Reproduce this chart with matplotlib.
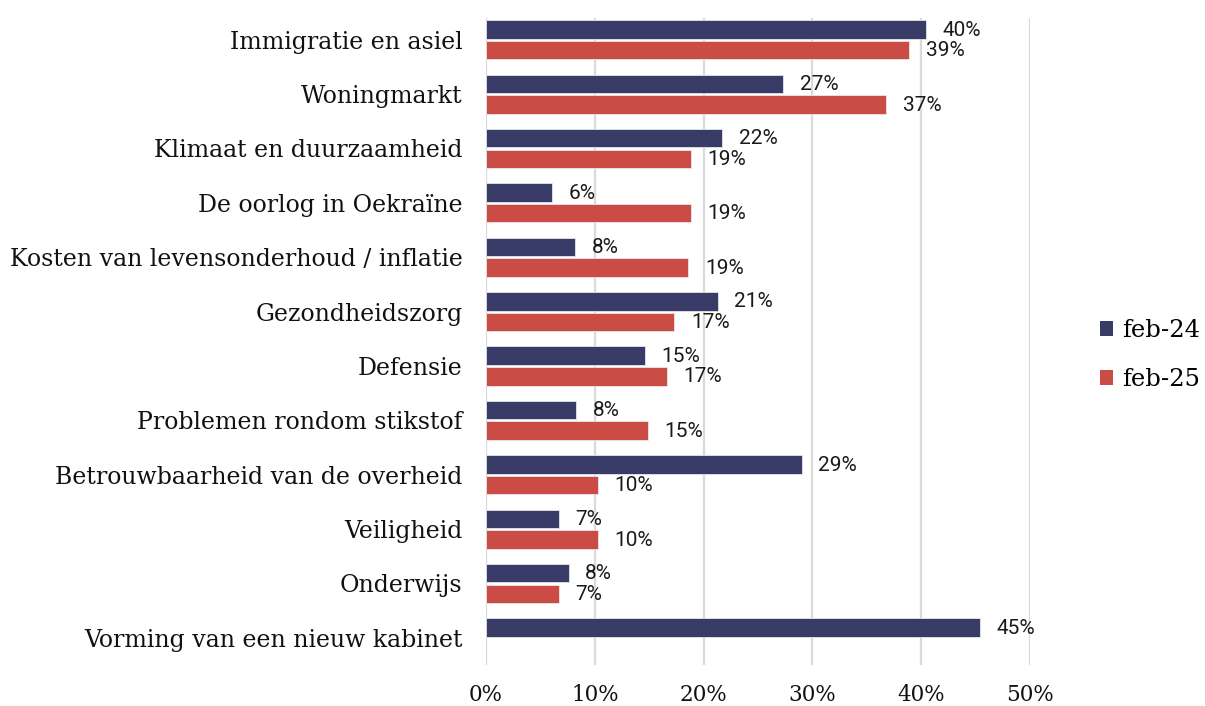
import numpy as np
import matplotlib.pyplot as plt

# ---------- data (percent) ----------
categories = [
    "Immigratie en asiel", "Woningmarkt", "Klimaat en duurzaamheid",
    "De oorlog in Oekraïne", "Kosten van levensonderhoud / inflatie",
    "Gezondheidszorg", "Defensie", "Problemen rondom stikstof",
    "Betrouwbaarheid van de overheid", "Veiligheid", "Onderwijs",
    "Vorming van een nieuw kabinet",
]
feb24 = [40.4, 27.3, 21.7, 6.1, 8.2, 21.3, 14.6, 8.3, 29.0, 6.7, 7.6, 45.4]
feb25 = [38.9, 36.8, 18.8, 18.8, 18.6, 17.3, 16.6, 14.9, 10.3, 10.3, 6.7, np.nan]
series = [("feb-24", feb24, "#383b66"), ("feb-25", feb25, "#cb4c45")]
xticks = [0, 10, 20, 30, 40, 50]

SERIF = ["DejaVu Serif"]

fig = plt.figure(figsize=(12.05, 7.06), dpi=100)
ax = fig.add_axes([486 / 1205, 1 - 665 / 706, (1030 - 486) / 1205, (665 - 18) / 706])

y = np.arange(len(categories))
h = 0.34
offs = [-0.19, 0.19]
for (name, vals, col), off in zip(series, offs):
    vals = np.array(vals, dtype=float)
    ax.barh(y + off, vals, height=h, color=col, edgecolor="#e6e6ee", linewidth=0.6,
            label=name, zorder=3)
    for yi, v in zip(y + off, vals):
        if np.isnan(v):
            continue
        ax.annotate(f"{int(round(v))}%", (v, yi), xytext=(12, -0.5), textcoords="offset points",
                    va="center", ha="left", fontsize=15, family="Roboto", color="#1a1a1a")

ax.set_xlim(0, 50)
ax.set_ylim(len(categories) - 0.5, -0.4)
ax.set_yticks(y)
ax.set_yticklabels(categories, family=SERIF, fontsize=17, color="#111111")
ax.set_xticks(xticks)
ax.set_xticklabels([f"{t}%" for t in xticks], family=SERIF, fontsize=15.5, color="#111111")
ax.tick_params(axis="y", length=0, pad=17)
ax.tick_params(axis="x", length=0, pad=14)
ax.grid(axis="x", color="#dadada", linewidth=1.6, zorder=0)
for s in ax.spines.values():
    s.set_visible(False)

leg = fig.legend(*ax.get_legend_handles_labels(), loc="center left",
                 bbox_to_anchor=(1100 / 1205, 0.497), bbox_transform=fig.transFigure,
                 frameon=False, borderaxespad=0, borderpad=0,
                 prop={"family": SERIF, "size": 17.5}, handlelength=0.55, handleheight=0.55,
                 handletextpad=0.35, labelspacing=1.05)
for hnd in leg.legend_handles:
    hnd.set_edgecolor("none")

fig.savefig("out.png", dpi=100)
